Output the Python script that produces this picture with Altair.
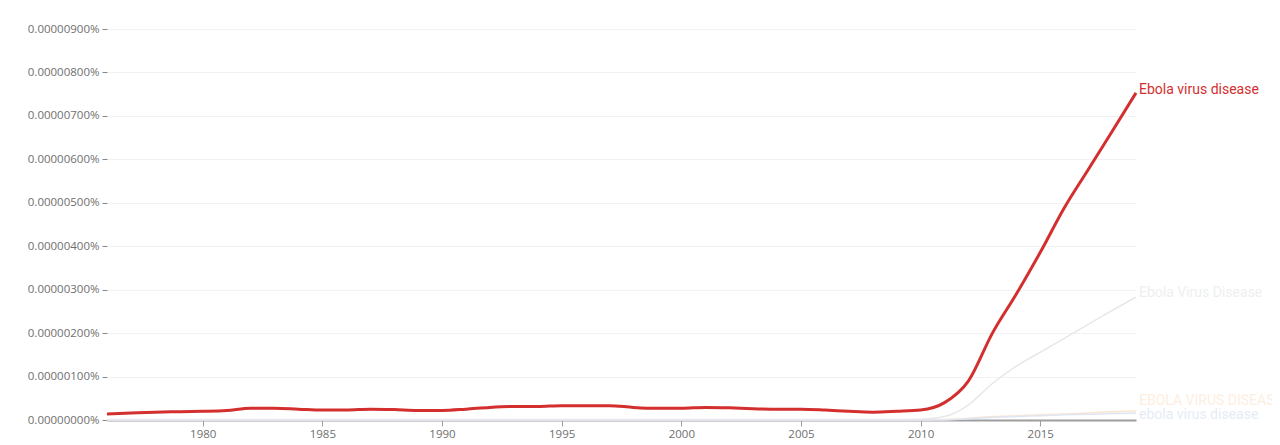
import pandas as pd
import altair as alt

# values in millionths of a percent (7.5 -> 0.00000750%)
years = list(range(1976, 2020))

ebola_virus_disease = [
    0.14, 0.16, 0.18, 0.19, 0.20, 0.22, 0.27, 0.27, 0.25, 0.23,
    0.23, 0.25, 0.24, 0.22, 0.22, 0.25, 0.29, 0.31, 0.31, 0.33,
    0.33, 0.33, 0.29, 0.27, 0.27, 0.29, 0.28, 0.26, 0.25, 0.25,
    0.23, 0.20, 0.18, 0.20, 0.23, 0.40, 0.90, 2.00, 2.90, 3.86,
    4.88, 5.76, 6.64, 7.53,
]
ebola_virus_disease_caps = [0.01] * 34 + [0.02, 0.08, 0.35, 0.84, 1.24, 1.56, 1.88, 2.20, 2.52, 2.83]
ebola_upper = [0.0] * 35 + [0.01, 0.04, 0.08, 0.10, 0.12, 0.14, 0.16, 0.19, 0.21]
ebola_lower = [0.0] * 36 + [0.03, 0.06, 0.08, 0.10, 0.12, 0.13, 0.15, 0.16]

series = [
    # name, values, line colour, label colour, width, label dy
    ("Ebola Virus Disease", ebola_virus_disease_caps, "#e6e9e6", "#eef0ee", 1.5, -4),
    ("EBOLA VIRUS DISEASE", ebola_upper, "#fbe6d2", "#fdeedf", 1.5, -10),
    ("ebola virus disease", ebola_lower, "#dfe6f3", "#e6ecf7", 1.5, 2),
    ("Ebola virus disease", ebola_virus_disease, "#d32f2f", "#d32f2f", 3, -3),
]

x_enc = alt.X(
    "year:Q",
    scale=alt.Scale(domain=[1976, 2019], nice=False, zero=False),
    title=None,
    axis=alt.Axis(values=[1980, 1985, 1990, 1995, 2000, 2005, 2010, 2015],
                  format="d", grid=False, domainColor="#9e9e9e", domainWidth=2,
                  tickColor="#9e9e9e", tickSize=6, labelPadding=2),
)
y_enc = alt.Y(
    "value:Q",
    scale=alt.Scale(domain=[0, 9], nice=False),
    title=None,
    axis=alt.Axis(values=[0, 1, 2, 3, 4, 5, 6, 7, 8, 9],
                  labelExpr="format(datum.value / 1000000, '.8f') + '%'",
                  domain=False, tickColor="#888888", tickSize=5,
                  labelPadding=3, gridColor="#f2f2f2"),
)

layers = []
for name, values, line_color, label_color, width, dy in series:
    df = pd.DataFrame({"year": years, "value": values, "ngram": name})
    line = alt.Chart(df).mark_line(
        interpolate="monotone", color=line_color, strokeWidth=width
    ).encode(x=x_enc, y=y_enc)
    label = alt.Chart(df.tail(1)).mark_text(
        align="left", baseline="middle", dx=3, dy=dy, font="Roboto", fontSize=14, color=label_color
    ).encode(x=x_enc, y=y_enc, text="ngram:N")
    layers += [line, label]

chart = alt.layer(*layers).properties(
    width=1029,
    height=391,
    autosize=alt.AutoSizeParams(type="none"),
    padding={"left": 99, "top": 21, "right": 136, "bottom": 22},
).configure_axis(
    labelFont="Open Sans", labelFontSize=11.5, labelColor="#6f6f6f"
).configure_view(stroke=None)

chart.save("out.html", embed_options={"renderer": "svg", "actions": False})
